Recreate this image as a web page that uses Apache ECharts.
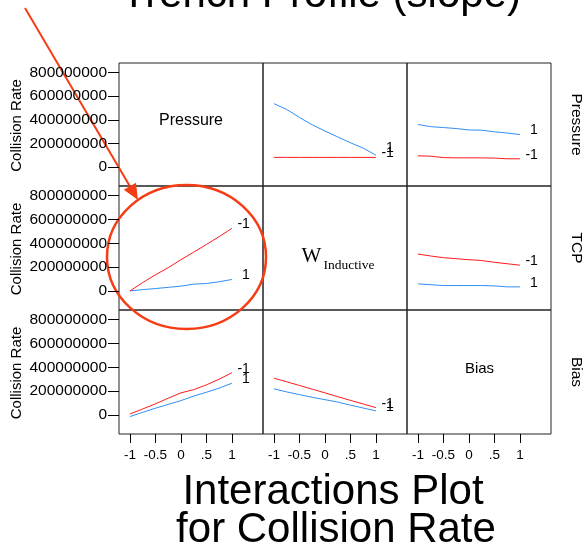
<!DOCTYPE html>
<html>
<head>
<meta charset="utf-8">
<script src="https://cdn.jsdelivr.net/npm/echarts@6/dist/echarts.min.js"></script>
<style>
  html, body { margin: 0; padding: 0; background: #fff; }
  #chart { width: 584px; height: 557px; }
</style>
</head>
<body>
<div id="chart"></div>
<script>
// Coded factor levels along every x axis
const xLevels = [-1, -0.75, -0.5, -0.25, 0, 0.25, 0.5, 0.75, 1];
const xTickValues = [-1, -0.5, 0, 0.5, 1];
const xTickLabels = ['-1', '-0.5', '0', '.5', '1'];
const yTickValues = [0, 200000000, 400000000, 600000000, 800000000];
const yTickLabels = ['0', '200000000', '400000000', '600000000', '800000000'];

const rowFactors = ['Pressure', 'TCP', 'Bias'];
const levelNames = ['-1', '1'];

// Collision rate profiles, one pair (level -1 / level 1) per off-diagonal cell
const pressureTcpLow   = [82e6, 82e6, 82e6, 82e6, 82e6, 82e6, 82e6, 82e6, 82e6];
const pressureTcpHigh  = [536e6, 487e6, 420e6, 357e6, 305e6, 255e6, 206e6, 160e6, 101e6];
const pressureBiasLow  = [95e6, 92e6, 80e6, 78e6, 78e6, 78e6, 76e6, 70e6, 70e6];
const pressureBiasHigh = [360e6, 342e6, 334e6, 326e6, 314e6, 312e6, 298e6, 288e6, 275e6];
const tcpPressureLow   = [0, 70e6, 135e6, 195e6, 262e6, 325e6, 390e6, 455e6, 525e6];
const tcpPressureHigh  = [0, 11e6, 20e6, 30e6, 40e6, 57e6, 62e6, 77e6, 96e6];
const tcpBiasLow       = [309e6, 293e6, 279e6, 270e6, 262e6, 255e6, 240e6, 228e6, 216e6];
const tcpBiasHigh      = [59e6, 52e6, 45e6, 45e6, 45e6, 45e6, 42e6, 34e6, 34e6];
const biasPressureLow  = [8e6, 50e6, 93e6, 140e6, 185e6, 212e6, 252e6, 300e6, 354e6];
const biasPressureHigh = [-14e6, 22e6, 56e6, 88e6, 120e6, 158e6, 190e6, 225e6, 266e6];
const biasTcpLow       = [308e6, 278e6, 247e6, 216e6, 185e6, 153e6, 122e6, 92e6, 61e6];
const biasTcpHigh      = [219e6, 193e6, 170e6, 148e6, 128e6, 108e6, 82e6, 58e6, 34e6];

// [row, col, level -1 values, level 1 values]
const cells = [
  [0, 1, pressureTcpLow, pressureTcpHigh],
  [0, 2, pressureBiasLow, pressureBiasHigh],
  [1, 0, tcpPressureLow, tcpPressureHigh],
  [1, 2, tcpBiasLow, tcpBiasHigh],
  [2, 0, biasPressureLow, biasPressureHigh],
  [2, 1, biasTcpLow, biasTcpHigh]
];

// Layout of the 3x3 matrix
const colLeft = [119, 263, 407];
const rowTop = [63, 186, 310];
const rowHeight = [123, 124, 124];
const cellWidth = 144;
const X_MIN = -1.215, X_MAX = 1.61;
const Y_MIN = -160e6, Y_MAX = 880e6;
const SANS = '"Liberation Sans", Arial, sans-serif';
const SERIF = '"Liberation Serif", "Times New Roman", serif';
const RED = '#ff1a1a';
const BLUE = '#2f8ff5';
const ACCENT = '#f53d15';

const grids = [], xAxes = [], yAxes = [], series = [];
for (let r = 0; r < 3; r++) {
  for (let c = 0; c < 3; c++) {
    const idx = r * 3 + c;
    grids.push({
      left: colLeft[c], top: rowTop[r], width: cellWidth, height: rowHeight[r],
      show: true, borderColor: '#222', borderWidth: 1, backgroundColor: 'transparent'
    });
    const bottomRow = r === 2, leftCol = c === 0;
    xAxes.push({
      gridIndex: idx, type: 'value', min: X_MIN, max: X_MAX, position: 'bottom',
      axisLine: { show: false, onZero: false }, splitLine: { show: false },
      axisTick: { show: bottomRow, customValues: xTickValues, length: 9, lineStyle: { color: '#000', width: 1 } },
      axisLabel: {
        show: bottomRow, customValues: xTickValues, margin: 14,
        fontFamily: SANS, fontSize: 13.5, color: '#000',
        formatter: v => xTickLabels[xTickValues.indexOf(v)]
      }
    });
    yAxes.push({
      gridIndex: idx, type: 'value', min: Y_MIN, max: Y_MAX, position: 'left',
      axisLine: { show: false, onZero: false }, splitLine: { show: false },
      axisTick: { show: leftCol, customValues: yTickValues, length: 11, lineStyle: { color: '#000', width: 1 } },
      axisLabel: {
        show: leftCol, customValues: yTickValues, margin: 12,
        fontFamily: SANS, fontSize: 15.5, color: '#000',
        formatter: v => yTickLabels[yTickValues.indexOf(v)]
      }
    });
  }
}

function profileSeries(idx, values, color, label, dy) {
  return {
    type: 'line', xAxisIndex: idx, yAxisIndex: idx,
    data: xLevels.map((x, i) => [x, values[i]]),
    symbol: 'none', silent: true, animation: false,
    color: color, lineStyle: { color: color, width: 1 },
    endLabel: {
      show: true, formatter: label, color: '#000',
      fontFamily: SANS, fontSize: 14,
      distance: 0, align: 'right', verticalAlign: 'middle', offset: [18, dy]
    }
  };
}

cells.forEach(([r, c, low, high]) => {
  const idx = r * 3 + c;
  const highDy = (r === 0 && c === 1) ? -7 : -4;
  series.push(profileSeries(idx, high, BLUE, levelNames[1], highDy));
  series.push(profileSeries(idx, low, RED, levelNames[0], -4));
});

const graphics = [];
const text = (x, y, str, font, extra) => Object.assign({
  type: 'text', x: x, y: y, silent: true,
  style: { text: str, font: font, fill: '#000', textAlign: 'center', textVerticalAlign: 'middle', align: 'center', verticalAlign: 'middle' }
}, extra || {});

// Headline (runs off the top edge)
graphics.push(text(321, -5, 'Trench Profile (slope)', '42px ' + SANS));

// Diagonal factor names
graphics.push(text(191, 121, 'Pressure', '16px ' + SANS));
graphics.push(text(479.5, 369, 'Bias', '15px ' + SANS));
graphics.push({
  type: 'text', x: 301.5, y: 256.5, silent: true,
  style: { text: 'W', font: '21px ' + SERIF, fill: '#000', textAlign: 'left', textVerticalAlign: 'middle', align: 'left', verticalAlign: 'middle' }
});
graphics.push({
  type: 'text', x: 323.5, y: 265.5, silent: true,
  style: { text: 'Inductive', font: '13.5px ' + SERIF, fill: '#000', textAlign: 'left', textVerticalAlign: 'middle', align: 'left', verticalAlign: 'middle' }
});

// Row factor names on the right, and response name on the left
for (let r = 0; r < 3; r++) {
  const cy = rowTop[r] + rowHeight[r] / 2;
  graphics.push(text(576, cy, rowFactors[r], '15.5px ' + SANS, { rotation: -Math.PI / 2 }));
  graphics.push(text(17, cy + 1, 'Collision Rate', '15px ' + SANS, { rotation: Math.PI / 2 }));
}

// Footer title
graphics.push(text(333, 492, 'Interactions Plot', '42px ' + SANS));
graphics.push(text(336, 530.5, 'for Collision Rate', '42px ' + SANS));

// Call-out: arrow and ellipse around the Pressure x TCP profile
const tip = [138, 200], tail = [25, 8];
const len = Math.hypot(tip[0] - tail[0], tip[1] - tail[1]);
const d = [(tip[0] - tail[0]) / len, (tip[1] - tail[1]) / len];
const n = [d[1], -d[0]];
const headLen = 16, headHalf = 7;
const base = [tip[0] - d[0] * headLen, tip[1] - d[1] * headLen];
graphics.push({
  type: 'line', silent: true,
  shape: { x1: tail[0], y1: tail[1], x2: base[0], y2: base[1] },
  style: { stroke: ACCENT, lineWidth: 2 }
});
graphics.push({
  type: 'polygon', silent: true,
  shape: { points: [tip, [base[0] + n[0] * headHalf, base[1] + n[1] * headHalf], [base[0] - n[0] * headHalf, base[1] - n[1] * headHalf]] },
  style: { fill: ACCENT }
});
graphics.push({
  type: 'ellipse', silent: true,
  shape: { cx: 186.5, cy: 257, rx: 79.5, ry: 72 },
  style: { fill: 'none', stroke: ACCENT, lineWidth: 2.5 }
});

const chart = echarts.init(document.getElementById('chart'), null, { renderer: 'canvas' });
chart.setOption({
  animation: false,
  backgroundColor: '#fff',
  grid: grids,
  xAxis: xAxes,
  yAxis: yAxes,
  series: series,
  graphic: graphics
});
</script>
</body>
</html>
